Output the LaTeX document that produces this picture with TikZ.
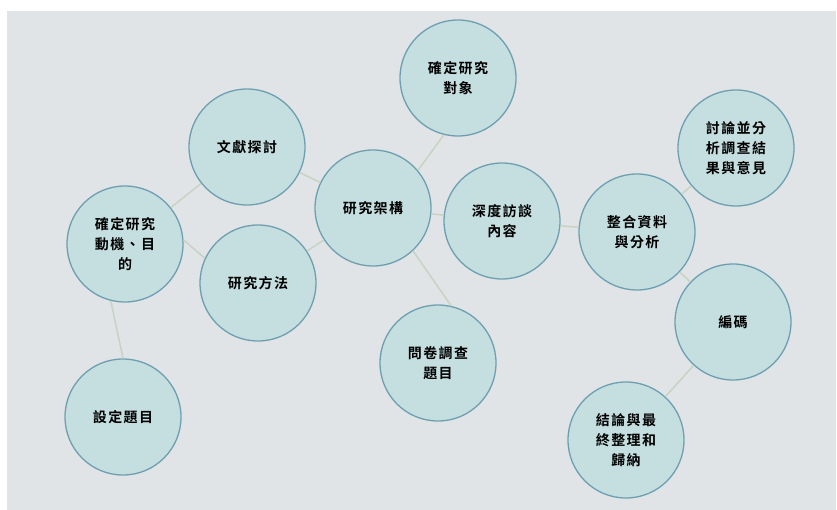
\documentclass[tikz,border=0pt]{standalone}
\usepackage{fontspec}
\newfontfamily\cjk{Noto Sans CJK TC}[BoldFont={Noto Sans CJK TC Bold},LetterSpace=10]
\definecolor{bggray}{HTML}{E1E4E7}
\definecolor{circfill}{HTML}{C5DFE0}
\definecolor{circedge}{HTML}{6E9FB0}
\definecolor{linkcol}{HTML}{C6D4C3}
\begin{document}
\begin{tikzpicture}[x=1pt,y=-1pt,
  bubble/.style={circle,draw=circedge,line width=1.3pt,fill=circfill,
    minimum size=116pt,inner sep=0pt,align=center,
    font=\cjk\bfseries\fontsize{14}{20}\selectfont},
  link/.style={draw=linkcol,line width=1.5pt}]
\useasboundingbox (0,0) rectangle (837,510);
\fill[white] (0,0) rectangle (837,510);
\fill[bggray] (7,11) rectangle (836,510);
% nodes
\node[bubble] (wenxian) at (247,147) {文獻探討};
\node[bubble] (jiagou) at (373,208) {研究架構};
\node[bubble] (dongji) at (125,244) {確定研究\\動機、目\\的};
\node[bubble] (fangfa) at (258,283) {研究方法};
\node[bubble] (sheding) at (123,417) {設定題目};
\node[bubble] (duixiang) at (458,78) {確定研究\\對象};
\node[bubble] (taolun) at (736,148) {討論並分\\析調查結\\果與意見};
\node[bubble] (shendu) at (502,221) {深度訪談\\內容};
\node[bubble] (zhenghe) at (637,232) {整合資料\\與分析};
\node[bubble] (bianma) at (733,322) {編碼};
\node[bubble] (jielun) at (626,440) {結論與最\\終整理和\\歸納};
\node[bubble] (wenjuan) at (438,363) {問卷調查\\題目};
% connectors
\draw[link] (dongji) -- (wenxian);
\draw[link] (dongji.4) -- (fangfa.155);
\draw[link] (fangfa) -- (jiagou);
\draw[link] (wenxian) -- (jiagou);
\draw[link] (dongji.-104) -- (sheding.90);
\draw[link] (jiagou.40) -- (duixiang.-104);
\draw[link] (jiagou) -- (shendu);
\draw[link] (jiagou.-47) -- (wenjuan.77);
\draw[link] (shendu) -- (zhenghe);
\draw[link] (zhenghe) -- (taolun);
\draw[link] (zhenghe) -- (bianma);
\draw[link] (bianma) -- (jielun);
\end{tikzpicture}
\end{document}
